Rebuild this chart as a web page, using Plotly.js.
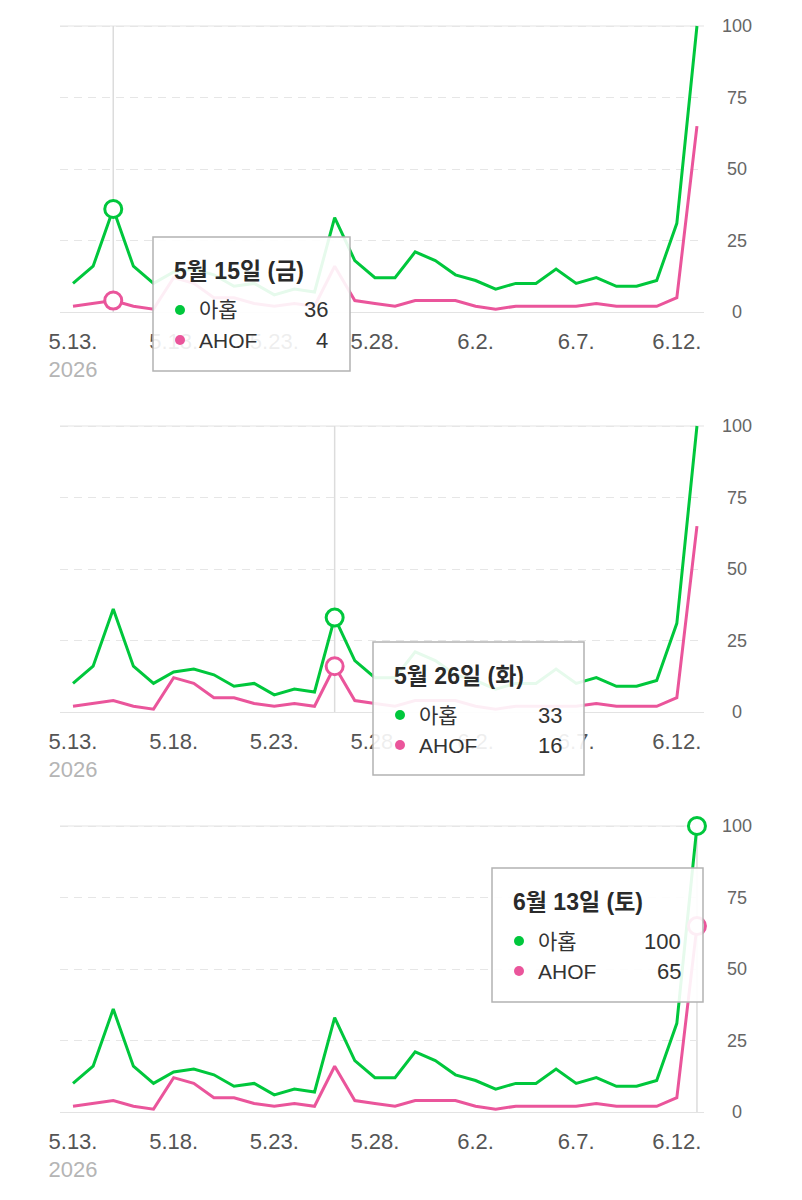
<!DOCTYPE html>
<html><head><meta charset="utf-8">
<script src="https://cdn.plot.ly/plotly-3.0.1.min.js"></script>
<style>html,body{margin:0;padding:0;background:#fff}</style>
</head><body><div id="chart" style="width:802px;height:1200px"></div>
<script>
// ---- data ----
const dates = ['2026-05-13','2026-05-14','2026-05-15','2026-05-16','2026-05-17','2026-05-18','2026-05-19','2026-05-20',
  '2026-05-21','2026-05-22','2026-05-23','2026-05-24','2026-05-25','2026-05-26','2026-05-27','2026-05-28',
  '2026-05-29','2026-05-30','2026-05-31','2026-06-01','2026-06-02','2026-06-03','2026-06-04','2026-06-05',
  '2026-06-06','2026-06-07','2026-06-08','2026-06-09','2026-06-10','2026-06-11','2026-06-12','2026-06-13'];
const ahop = [10,16,36,16,10,14,15,13,9,10,6,8,7,33,18,12,12,21,18,13,11,8,10,10,15,10,12,9,9,11,31,100];
const ahof = [2,3,4,2,1,12,10,5,5,3,2,3,2,16,4,3,2,4,4,4,2,1,2,2,2,2,3,2,2,2,5,65];
const seriesNames = ['아홉','AHOF'];
const tickDates = ['2026-05-13','2026-05-18','2026-05-23','2026-05-28','2026-06-02','2026-06-07','2026-06-12'];
const tickLabels = ['5.13.','5.18.','5.23.','5.28.','6.2.','6.7.','6.12.'];
const yearLabel = '2026';
const yTicks = [0,25,50,75,100];
const yTickLabels = ['\u00a0\u00a00','\u00a025','\u00a050','\u00a075','100'];
const hoverIdx = [2,13,31];
const weekdays = ['일','월','화','수','목','금','토'];

// ---- style ----
const series = [ahop, ahof];
const colors = ['#00c73c','#ea559b'];
const FONT = 'Liberation Sans, Arial, Noto Sans CJK KR, sans-serif';
const W = 802, H = 1200;
const X = px => px / W;
const Y = py => 1 - py / H;
const boxes = [
  {x0:153, x1:350, y0:237, y1:371},
  {x0:373, x1:584, y0:642, y1:775},
  {x0:492, x1:703, y0:868, y1:1002}
];

const traces = [];
const layout = {
  width: W, height: H,
  margin: {l:0, r:0, t:0, b:0},
  paper_bgcolor: '#fff', plot_bgcolor: '#fff',
  showlegend: false,
  hovermode: false,
  font: {family: FONT},
  shapes: [], annotations: []
};

const ticktext = tickLabels.map((t, i) => i === 0 ? t + '<br><span style="color:#b5b5b5">' + yearLabel + '</span>' : t);

for (let p = 0; p < 3; p++) {
  const n = p === 0 ? '' : String(p + 1);
  const xa = 'x' + n, ya = 'y' + n;
  const off = p * 400;
  layout['xaxis' + n] = {
    type: 'date', domain: [X(60), X(704)],
    range: ['2026-05-12 08:30', '2026-06-13 08:24'],
    anchor: ya, tickvals: tickDates, ticktext: ticktext,
    showgrid: false, zeroline: false, showline: false, ticks: '',
    tickfont: {size: 22, color: '#555', family: FONT},
    ticklabelstandoff: 11, fixedrange: true
  };
  layout['yaxis' + n] = {
    domain: [Y(314.86 + off), Y(23.14 + off)],
    range: [-1, 101], side: 'right', anchor: xa,
    tickvals: yTicks, ticktext: yTickLabels,
    showgrid: true, gridcolor: '#e6e6e6', gridwidth: 1, griddash: '8px,6px',
    zeroline: true, zerolinecolor: '#e3e3e3', zerolinewidth: 1,
    showline: false, ticks: '',
    tickfont: {size: 18, color: '#666', family: FONT},
    ticklabelstandoff: 17, fixedrange: true
  };
  const hi = hoverIdx[p];
  layout.shapes.push({type:'line', xref: xa + ' domain', yref: ya, x0:0, x1:1, y0:100, y1:100,
    line:{color:'#e3e3e3', width:1}, layer:'below'});
  layout.shapes.push({type:'line', xref: xa, yref: ya, x0: dates[hi], x1: dates[hi], y0: 0, y1: 100,
    line:{color:'#dcdcdc', width:1.5}, layer:'below'});

  series.forEach((s, k) => {
    traces.push({type:'scatter', mode:'lines', x: dates, y: s, xaxis: xa, yaxis: ya,
      name: seriesNames[k], line:{color: colors[k], width: 3}, hoverinfo:'skip'});
  });
  series.forEach((s, k) => {
    traces.push({type:'scatter', mode:'markers', x:[dates[hi]], y:[s[hi]], xaxis: xa, yaxis: ya,
      cliponaxis:false, hoverinfo:'skip',
      marker:{size:17, color:'#fff', line:{color: colors[k], width:3}}});
  });

  // tooltip
  const b = boxes[p];
  layout.shapes.push({type:'rect', xref:'paper', yref:'paper', x0:X(b.x0), x1:X(b.x1), y0:Y(b.y1), y1:Y(b.y0),
    fillcolor:'rgba(255,255,255,0.9)', line:{color:'#b3b3b3', width:1.5}, layer:'above'});
  const d = new Date(dates[hi] + 'T00:00:00');
  const title = (d.getMonth() + 1) + '월 ' + d.getDate() + '일 (' + weekdays[d.getDay()] + ')';
  layout.annotations.push({xref:'paper', yref:'paper', x:X(b.x0 + 19), y:Y(b.y0 + 34), xanchor:'left', yanchor:'middle',
    text:'<b>' + title + '</b>', showarrow:false, font:{size:23, color:'#2a2a2a', family:FONT}});
  series.forEach((s, k) => {
    const cy = b.y0 + 73 + k * 30;
    const cx = b.x0 + 27;
    layout.shapes.push({type:'circle', xref:'paper', yref:'paper', x0:X(cx-5), x1:X(cx+5), y0:Y(cy+5), y1:Y(cy-5),
      fillcolor: colors[k], line:{width:0}, layer:'above'});
    layout.annotations.push({xref:'paper', yref:'paper', x:X(b.x0 + 44), y:Y(cy), xanchor:'left', yanchor:'middle',
      text: seriesNames[k], showarrow:false, font:{size:21, color:'#333', family:FONT}});
    layout.annotations.push({xref:'paper', yref:'paper', x:X(b.x1 - 20), y:Y(cy), xanchor:'right', yanchor:'middle',
      text: String(s[hi]), showarrow:false, font:{size:22, color:'#333', family:FONT}});
  });
}

Plotly.newPlot('chart', traces, layout, {displayModeBar:false, staticPlot:true});
</script></body></html>
